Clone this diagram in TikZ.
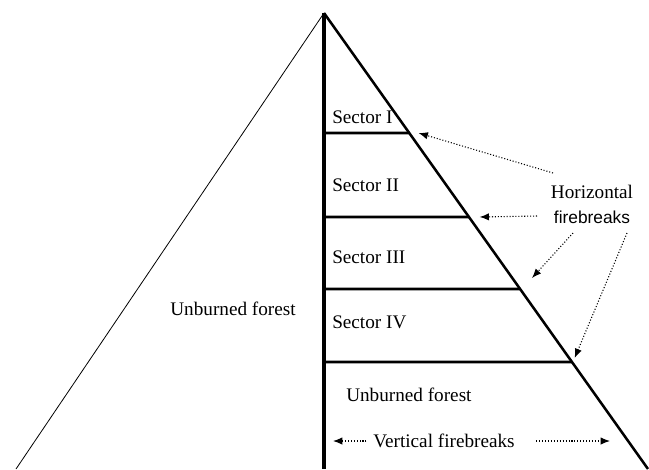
\documentclass[tikz,border=0pt]{standalone}
\usepackage{fontspec}
\setmainfont{Liberation Serif}
\newfontfamily\sansfont{Liberation Sans}
\usetikzlibrary{arrows.meta,positioning,calc}

\begin{document}
\begin{tikzpicture}[
  x=0.75pt, y=-0.75pt,
  font=\fontsize{14.4}{17}\selectfont,
  lbl/.style={inner sep=0pt},
  sect/.style={lbl, anchor=west},
  brk/.style={line width=1.9pt},
  arr/.style={-{Latex[length=7pt,width=5.5pt]}, dash pattern=on 0.8pt off 1.4pt, line width=0.8pt}
]
\useasboundingbox (0,0) rectangle (649,469);
% triangle
\coordinate (apex) at (324,13);
\coordinate (baseL) at (16,469);
\coordinate (baseM) at (324,469);
\coordinate (baseR) at (648,469);
\draw[line width=0.6pt] (apex) -- (baseL);
\draw[line width=3.6pt] (apex) -- (baseM);
\draw[brk] (apex) -- (baseR);
% horizontal firebreaks
\foreach \i/\y in {1/133, 2/217, 3/289, 4/362} {
  \coordinate (w\i) at (324,\y);
  \coordinate (f\i) at ($(apex)!{(\y-13)/456}!(baseR)$);
  \draw[brk] (w\i) -- (f\i);
}
% labels
\node[sect] (s1) at (332,117) {Sector I};
\node[sect] (s2) at (332,185) {Sector II};
\node[sect] (s3) at (332,257) {Sector III};
\node[sect] (s4) at (332,322) {Sector IV};
\node[lbl] (outer) at (233,309) {Unburned forest};
\node[lbl, anchor=west] (inner) at (346,395) {Unburned forest};
\node[lbl] (horiz) at (592,192) {Horizontal};
\node[lbl, font=\sansfont\fontsize{13}{15}\selectfont, below=9pt of horiz] (fb) {firebreaks};
\node[lbl] (vert) at (444,441) {Vertical firebreaks};
% arrows
\coordinate (h1) at (553,173);
\coordinate (h2) at (537,216);
\coordinate (h3) at (573,233);
\coordinate (h4) at (627,233);
\coordinate (t3) at (532,278);
\coordinate (vl) at (333,441);
\coordinate (vr) at (610,441);
\draw[arr] (h1) -- ([xshift=7pt]f1);
\draw[arr] (h2) -- ([xshift=8pt]f2);
\draw[arr] (h3) -- (t3);
\draw[arr] (h4) -- ([xshift=2pt,yshift=3pt]f4);
\draw[arr] ([xshift=-5pt]vert.west) -- (vl);
\draw[arr] ([xshift=16pt]vert.east) -- (vr);
\end{tikzpicture}
\end{document}
